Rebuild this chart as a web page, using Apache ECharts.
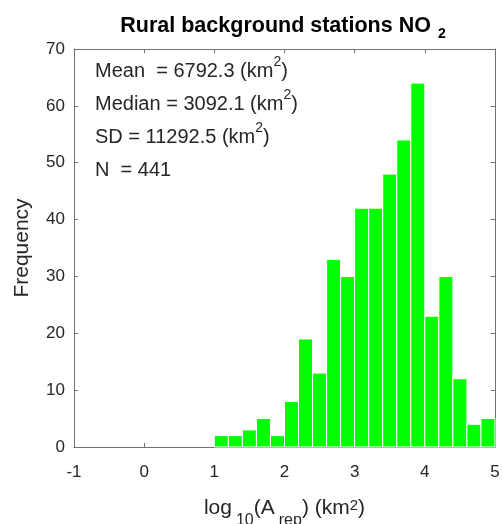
<!DOCTYPE html>
<html>
<head>
<meta charset="utf-8">
<script src="https://cdn.jsdelivr.net/npm/echarts@6/dist/echarts.min.js"></script>
<style>html,body{margin:0;padding:0;background:#fff;}#c{width:503px;height:524px;}</style>
</head>
<body>
<div id="c"></div>
<script>
// Histogram bins (log10 area, km^2), bin width 0.2
var binStarts = [1.0,1.2,1.4,1.6,1.8,2.0,2.2,2.4,2.6,2.8,3.0,3.2,3.4,3.6,3.8,4.0,4.2,4.4,4.6,4.8];
var binWidth = 0.2;
var counts = [2,2,3,5,2,8,19,13,33,30,42,42,48,54,64,23,30,12,4,5];
var xTicks = [-1,0,1,2,3,4,5];
var yTicks = [0,10,20,30,40,50,60,70];
var statsLines = [
  ['Mean  = 6792.3 (km', '2', ')'],
  ['Median = 3092.1 (km', '2', ')'],
  ['SD = 11292.5 (km', '2', ')'],
  ['N  = 441', '', '']
];

var FONT = 'Liberation Sans, Arial, Helvetica, sans-serif';
var AX = '#707070';
var TXT = '#262626';

var data = binStarts.map(function (s, i) { return [s, s + binWidth, counts[i]]; });

var chart = echarts.init(document.getElementById('c'), null, {renderer: 'canvas'});

var statsText = statsLines.map(function (l) {
  return l[1] ? (l[0] + '{sup|' + l[1] + '}' + l[2]) : l[0];
}).join('\n');

function axisBase(pos, showLabel) {
  return {
    type: 'value', position: pos,
    axisLine: { show: true, onZero: false, lineStyle: { color: AX, width: 1 } },
    axisTick: { show: true, inside: true, length: 4, lineStyle: { color: AX } },
    axisLabel: { show: showLabel, color: TXT, fontFamily: FONT, fontSize: 17 },
    splitLine: { show: false }
  };
}

var xMain = axisBase('bottom', true);
xMain.min = xTicks[0]; xMain.max = xTicks[xTicks.length - 1]; xMain.interval = 1;
xMain.axisLabel.margin = 17;
xMain.name = '{m|log}{s|10}{m|(A}{s|rep}{m|) (km}{p|2}{m|)}';
xMain.nameLocation = 'middle';
xMain.nameGap = 51;
xMain.nameTextStyle = {
  color: TXT, fontFamily: FONT, fontSize: 21,
  rich: {
    m: { color: TXT, fontFamily: FONT, fontSize: 21, lineHeight: 24, verticalAlign: 'top' },
    s: { color: TXT, fontFamily: FONT, fontSize: 16, lineHeight: 16, verticalAlign: 'top', padding: [15, 0, 0, 4] },
    p: { color: TXT, fontFamily: FONT, fontSize: 15, lineHeight: 6, verticalAlign: 'top' }
  }
};
var xTop = axisBase('top', false);
xTop.min = xTicks[0]; xTop.max = xTicks[xTicks.length - 1]; xTop.interval = 1;

var yMain = axisBase('left', true);
yMain.min = yTicks[0]; yMain.max = yTicks[yTicks.length - 1]; yMain.interval = 10;
yMain.axisLabel.margin = 9;
yMain.name = 'Frequency';
yMain.nameLocation = 'middle';
yMain.nameGap = 41;
yMain.nameRotate = 90;
yMain.nameTextStyle = { color: TXT, fontFamily: FONT, fontSize: 21 };
var yRight = axisBase('right', false);
yRight.min = yTicks[0]; yRight.max = yTicks[yTicks.length - 1]; yRight.interval = 10;

var option = {
  backgroundColor: '#fff',
  animation: false,
  title: {
    text: '{m|Rural background stations NO}{s|2}',
    left: 278, top: 10, textAlign: 'center',
    textStyle: {
      fontFamily: FONT, fontSize: 21.5, fontWeight: 'bold', color: '#000',
      rich: {
        m: { fontFamily: FONT, fontSize: 21.5, fontWeight: 'bold', color: '#000', lineHeight: 24, verticalAlign: 'top' },
        s: { fontFamily: FONT, fontSize: 14, fontWeight: 'bold', color: '#000', lineHeight: 14, verticalAlign: 'top', padding: [12, 0, 0, 7] }
      }
    }
  },
  grid: { left: 74, right: 8, top: 49, bottom: 77, show: false, outerBoundsMode: 'none', containLabel: false },
  xAxis: [xMain, xTop],
  yAxis: [yMain, yRight],
  series: [{
    type: 'custom',
    xAxisIndex: 0, yAxisIndex: 0,
    data: data,
    encode: { x: [0, 1], y: 2 },
    renderItem: function (params, api) {
      var p0 = api.coord([api.value(0), 0]);
      var p1 = api.coord([api.value(1), api.value(2)]);
      return {
        type: 'rect',
        shape: { x: p0[0], y: p1[1], width: p1[0] - p0[0], height: p0[1] - p1[1] },
        style: { fill: '#00ff00', stroke: '#ffffff', lineWidth: 1 }
      };
    },
    z: 1
  }],
  graphic: [{
    type: 'text', left: 95, top: 55, z: 10,
    style: {
      text: statsText, fill: TXT,
      font: '20px ' + FONT, lineHeight: 33,
      rich: { sup: { fill: TXT, fontFamily: FONT, fontSize: 14, lineHeight: 24, verticalAlign: 'top' } }
    }
  }]
};
chart.setOption(option);
</script>
</body>
</html>
